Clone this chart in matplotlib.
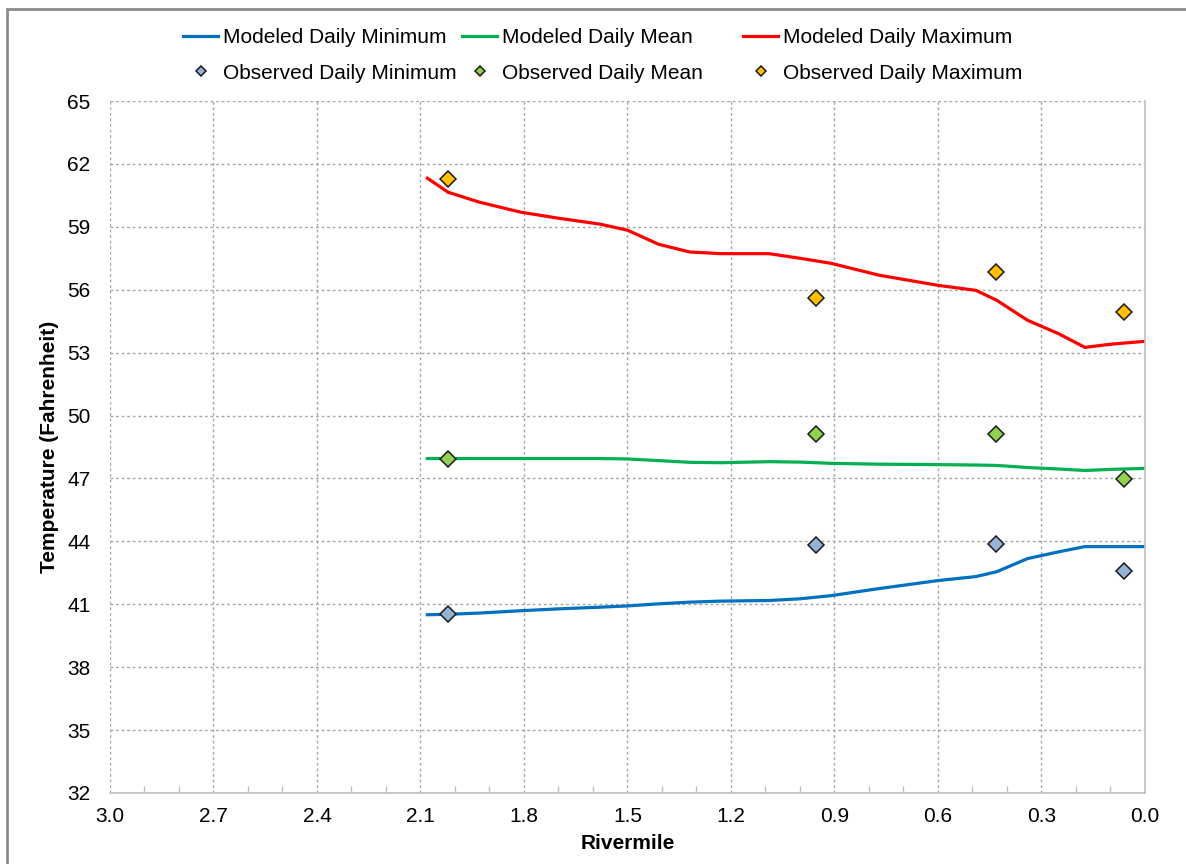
import numpy as np
import matplotlib.pyplot as plt
from matplotlib.patches import Rectangle
from matplotlib.ticker import MultipleLocator, FixedLocator

plt.rcParams['font.family'] = ['Liberation Sans', 'DejaVu Sans']

# Modeled profiles along the river (rivermile, deg F)
model_rm = [2.08, 2.02, 1.93, 1.81, 1.70, 1.58, 1.50, 1.41, 1.32, 1.23, 1.09, 1.00,
            0.91, 0.77, 0.60, 0.49, 0.43, 0.34, 0.25, 0.174, 0.10, 0.0]
model_max = [61.32, 60.65, 60.18, 59.70, 59.41, 59.13, 58.84, 58.17, 57.80, 57.72, 57.72, 57.50,
             57.26, 56.69, 56.21, 55.97, 55.50, 54.54, 53.90, 53.25, 53.40, 53.54]
model_mean = [47.95, 47.95, 47.95, 47.95, 47.95, 47.95, 47.93, 47.85, 47.77, 47.75, 47.80, 47.78,
              47.72, 47.68, 47.66, 47.64, 47.62, 47.52, 47.45, 47.38, 47.43, 47.48]
model_min = [40.50, 40.52, 40.58, 40.69, 40.78, 40.86, 40.92, 41.02, 41.10, 41.15, 41.18, 41.26,
             41.41, 41.75, 42.13, 42.32, 42.55, 43.18, 43.50, 43.75, 43.75, 43.75]

# Observed stations
obs_rm = [2.02, 0.954, 0.432, 0.061]
obs_max = [61.28, 55.59, 56.83, 54.92]
obs_mean = [47.95, 49.10, 49.10, 46.95]
obs_min = [40.55, 43.84, 43.89, 42.60]

y_ticks = np.arange(32, 66, 3)

fig = plt.figure(figsize=(11.86, 8.64), dpi=100)
ax = fig.add_axes([0.0927, 0.0822, 0.8727, 0.8009])

l_min, = ax.plot(model_rm, model_min, color='#0070C0', lw=2.3, label='Modeled Daily Minimum')
l_mean, = ax.plot(model_rm, model_mean, color='#00B050', lw=2.3, label='Modeled Daily Mean')
l_max, = ax.plot(model_rm, model_max, color='#FF0000', lw=2.3, label='Modeled Daily Maximum')

mk = dict(marker='D', ms=8.5, mec='#1a1a1a', mew=1.1, ls='none', zorder=5)
o_min, = ax.plot(obs_rm, obs_min, mfc='#95B3D7', label='Observed Daily Minimum', **mk)
o_mean, = ax.plot(obs_rm, obs_mean, mfc='#92D050', label='Observed Daily Mean', **mk)
o_max, = ax.plot(obs_rm, obs_max, mfc='#FFC000', label='Observed Daily Maximum', **mk)

ax.set_xlim(3.0, 0.0)
ax.set_ylim(32, 65)
ax.xaxis.set_major_locator(MultipleLocator(0.3))
ax.xaxis.set_minor_locator(MultipleLocator(0.1))
ax.yaxis.set_major_locator(FixedLocator(y_ticks))
ax.xaxis.set_major_formatter(plt.FormatStrFormatter('%.1f'))

ax.grid(True, which='major', color='#A6A6A6', ls=(0, (2, 2)), lw=1.0)
for s in ['top', 'left']:
    ax.spines[s].set_visible(False)
for s in ['bottom', 'right']:
    ax.spines[s].set_color('#BFBFBF')
    ax.spines[s].set_linewidth(1.2)
ax.tick_params(axis='both', which='major', length=0, labelsize=15, colors='#000000')
ax.tick_params(axis='x', which='major', pad=10)
ax.tick_params(axis='y', which='major', pad=14)
ax.tick_params(axis='x', which='minor', direction='in', length=5, color='#BFBFBF', width=1)

ax.set_xlabel('Rivermile', fontsize=15, fontweight='bold', labelpad=6)
ax.set_ylabel('Temperature (Fahrenheit)', fontsize=15, fontweight='bold', labelpad=6)

# one legend column per statistic, evenly spaced like the spreadsheet legend
col_x = [183 / 1186, 462 / 1186, 743 / 1186]
for x0, pair in zip(col_x, [(l_min, o_min), (l_mean, o_mean), (l_max, o_max)]):
    leg = fig.legend(handles=list(pair), labels=[h.get_label() for h in pair],
                     loc='upper left', bbox_to_anchor=(x0, 1 - 28 / 864),
                     frameon=False, fontsize=15, handlelength=1.7, handletextpad=0.2,
                     markerscale=0.6, labelspacing=0.8, borderpad=0, borderaxespad=0)

# chart area border
fig.patches.append(Rectangle((0.006, -0.01), 1.02, 0.9995,
                             transform=fig.transFigure, fill=False,
                             edgecolor='#8C8C8C', lw=2.0))

fig.savefig('out.png', dpi=100)
